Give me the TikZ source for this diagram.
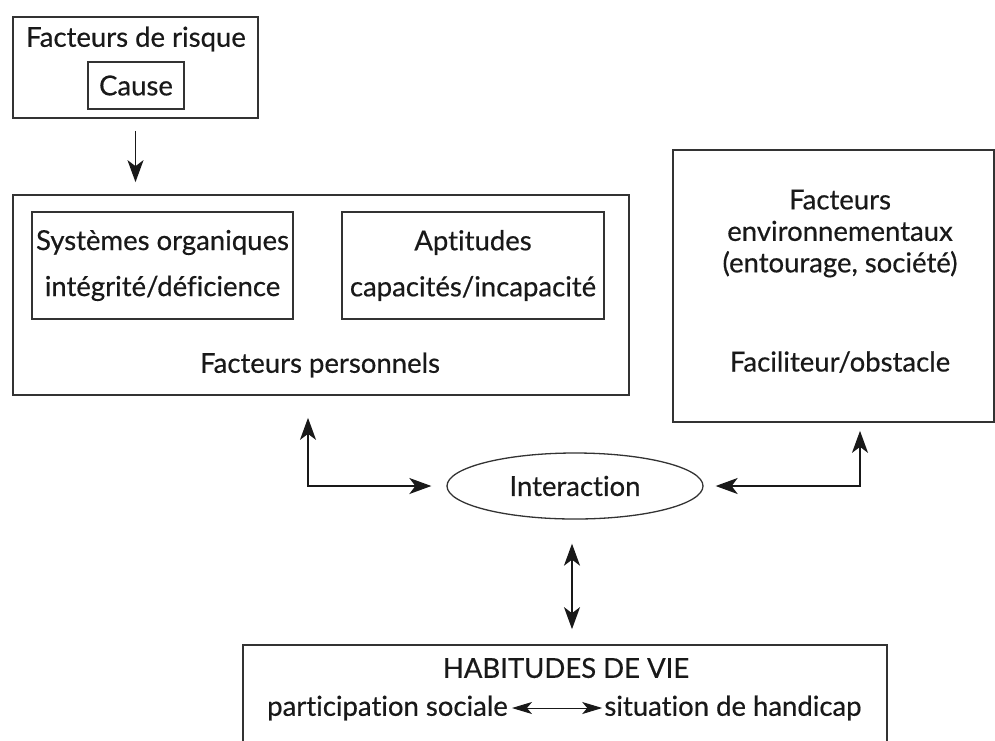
\documentclass[tikz,border=0pt]{standalone}
\usepackage{fontspec}
\setmainfont{Lato}[Ligatures=NoCommon, FakeBold=0.5]
\usetikzlibrary{arrows.meta,shapes.geometric}

\begin{document}
\begin{tikzpicture}[x=1pt, y=-1pt,
  >={Stealth[length=22pt,width=16pt,inset=6pt]},
  every node/.style={font=\fontsize{27.5}{33}\selectfont, text=black!90},
  box/.style={draw=black!80, line width=1.7pt},
  link/.style={draw=black!90, line width=1.7pt}]
\useasboundingbox (0,0) rectangle (995,740);
\clip (0,0) rectangle (995,740);

% risk factors
\node[box, minimum width=245, minimum height=101] (risque) at (135.5,67.5) {};
\node (risquet) at (136,39) {Facteurs de risque};
\node[box, minimum width=96, minimum height=47] (cause) at (136,85.5) {Cause};

% personal factors and the two boxes inside
\node[box, minimum width=616, minimum height=200] (perso) at (321,295) {};
\node[box, minimum width=261, minimum height=107, align=center] (sys) at (162.5,265.5)
  {Systèmes organiques\\[13pt]intégrité/déficience};
\node[box, minimum width=262, minimum height=107, align=center] (apt) at (473,265.5)
  {Aptitudes\\[13pt]capacités/incapacité};
\node (persot) at (320,365) {Facteurs personnels};

% environmental factors
\node[box, minimum width=321, minimum height=272] (env) at (833.5,286) {};
\node[align=center, font=\fontsize{27.5}{31.5}\selectfont] (envt) at (840,233.5)
  {Facteurs\\environnementaux\\(entourage, société)};
\node (envf) at (840,362) {Faciliteur/obstacle};

% interaction
\node[box, ellipse, line width=1.3pt, minimum width=256, minimum height=66] (inter) at (575,486) {Interaction};

% life habits
\node[box, minimum width=644, minimum height=120] (habit) at (565,705) {};
\node (habitt) at (566,668) {HABITUDES DE VIE};
\node[inner sep=0pt] (ps) at (387.5,708) {participation sociale};
\node[inner sep=0pt] (sh) at (733,708) {situation de handicap};

% the arrows
\coordinate (lk) at (308,0);
\coordinate (rk) at (860,0);
\coordinate (vk) at (572,0);
\draw[link, ->, shorten <=12pt, shorten >=12pt] (risque.south) -- (risque.south |- perso.north);
\draw[link, <->, shorten <=22pt, shorten >=15pt] (perso.south -| lk) |- (inter.west);
\draw[link, <->, shorten <=12pt, shorten >=8pt] (inter.east) -| (env.south -| rk);
\draw[link, <->, shorten <=24pt, shorten >=15pt] (inter.south -| vk) -- (habit.north -| vk);
\draw[link, {Stealth[length=20pt,width=12pt,inset=5pt]}-{Stealth[length=20pt,width=12pt,inset=5pt]}, line width=1pt,
  shorten <=4pt, shorten >=2pt] (ps) -- (sh);
\end{tikzpicture}
\end{document}
